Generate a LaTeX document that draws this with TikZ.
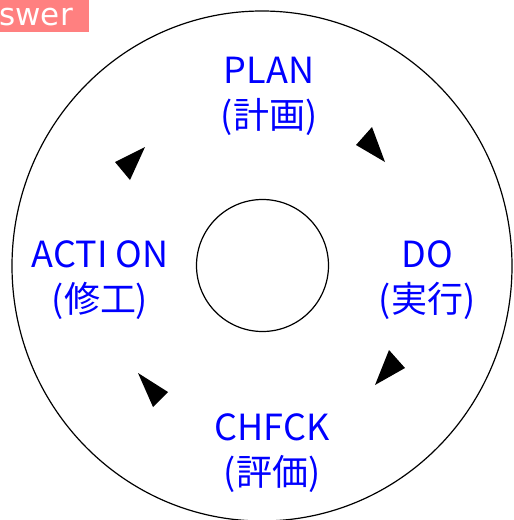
\documentclass[tikz,border=0pt]{standalone}
\usepackage{fontspec}
\setmainfont{Noto Sans CJK JP}
\newfontfamily\tagfont{DejaVu Sans}
\definecolor{phaseblue}{RGB}{0,0,255}
\definecolor{tagpink}{RGB}{255,128,128}
\tikzset{
  phase/.style={text=phaseblue, align=center, anchor=base, inner sep=0pt,
    font=\fontsize{36}{45}\selectfont},
  ring/.style={draw=black, line width=1.2pt},
  arrowmark/.style={fill=black}
}
\begin{document}
\begin{tikzpicture}[x=1pt,y=-1pt]
  \useasboundingbox (0,0) rectangle (514,520);
  % tag in the corner
  \fill[tagpink] (0,0) rectangle (89,32);
  \node[text=white, anchor=base east, inner sep=0pt, font=\tagfont\fontsize{31}{31}\selectfont]
    (tag) at (73,25) {swer};
  % rings
  \draw[ring] (262,266) ellipse [x radius=250, y radius=255];
  \draw[ring] (262.5,265.5) circle [radius=66];
  % phases
  \node[phase] (plan) at (269,128) {PLAN\\(計画)};
  \node[phase] (do) at (427,312) {DO\\(実行)};
  \node[phase] (check) at (272,485) {CHFCK\\(評価)};
  \node[phase] (action) at (100,312) {ACTI ON\\(修工)};
  % arrow marks, clockwise
  \fill[arrowmark] (356,145) -- (372,127) -- (385,162) -- cycle;
  \fill[arrowmark] (389,350) -- (405,368) -- (375,385) -- cycle;
  \fill[arrowmark] (168,392) -- (153,407) -- (138,373) -- cycle;
  \fill[arrowmark] (115,162) -- (130,180) -- (145,147) -- cycle;
\end{tikzpicture}
\end{document}
